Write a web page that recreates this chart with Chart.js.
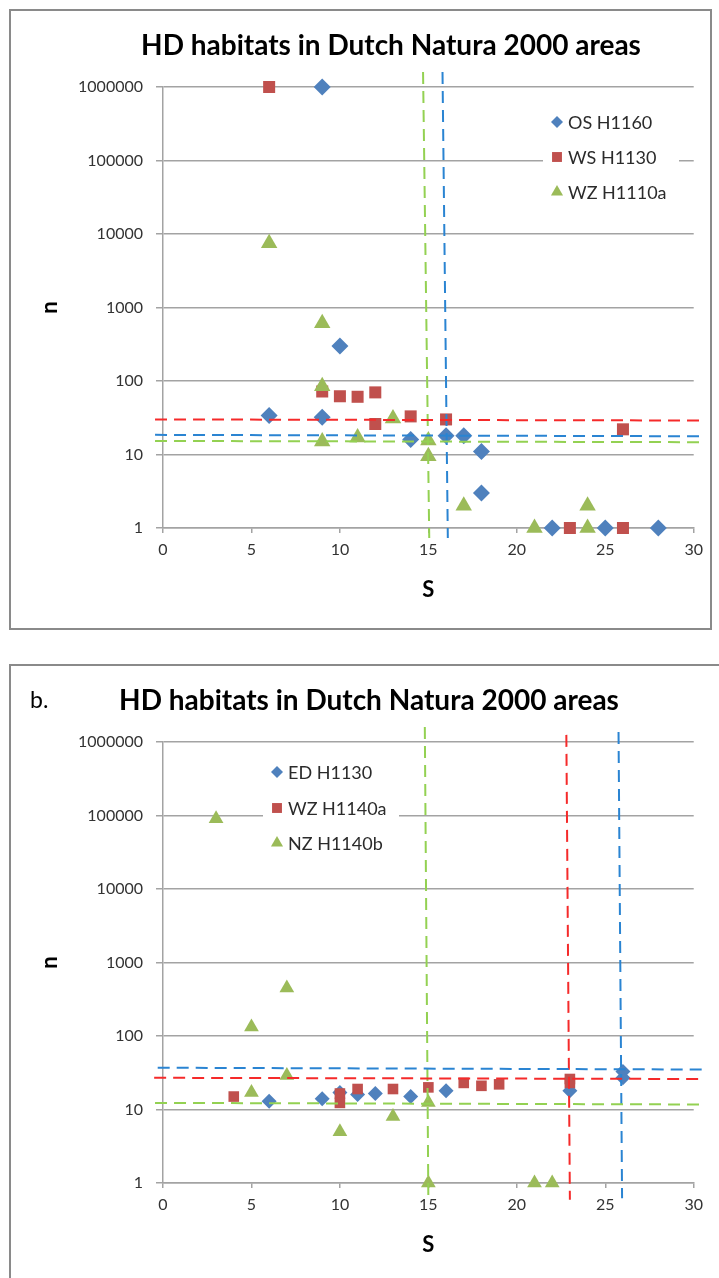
<!DOCTYPE html>
<html lang="en">
<head>
<meta charset="UTF-8">
<title>HD habitats in Dutch Natura 2000 areas</title>
<script src="https://cdn.jsdelivr.net/npm/chart.js"></script>
<style>
    html, body {
        margin: 0;
        padding: 0;
        background: #fff;
        overflow: hidden;
        width: 719px;
        height: 1278px;
    }

    .panel {
        position: absolute;
        left: 9px;
        border: 2px solid #8a8a8a;
        background: #fff;
    }

    #panelA { top: 9px; width: 699px; height: 617px; }
    #panelB { top: 664px; width: 720px; height: 617px; }

    canvas { display: block; }
</style>
</head>
<body>
<div class="panel" id="panelA"><canvas id="chartA" width="699" height="617"></canvas></div>
<div class="panel" id="panelB"><canvas id="chartB" width="699" height="617"></canvas></div>

<script>
    // shared axes
    const xTicks = [0, 5, 10, 15, 20, 25, 30];
    const yTicks = [1, 10, 100, 1000, 10000, 100000, 1000000];

    // panel a
    const osX = [9, 10, 6, 9, 14, 16, 17, 18, 18, 22, 25, 28];
    const osY = [1000000, 300, 34, 32, 16, 18, 18, 11, 3, 1, 1, 1];
    const wsX = [6, 9, 10, 11, 12, 12, 14, 16, 23, 26, 26];
    const wsY = [1000000, 72, 62, 61, 70, 26, 33, 30, 1, 22, 1];
    const wzaX = [6, 9, 9, 9, 11, 13, 15, 15, 17, 21, 24, 24];
    const wzaY = [7500, 610, 85, 15, 17, 31, 15.5, 9.5, 2, 1, 2, 1];

    // threshold lines of panel a: [x1, y1, x2, y2]
    const aRedH = [-0.45, 30, 30.45, 29];
    const aBlueH = [-0.45, 18.5, 30.45, 17.7];
    const aGreenH = [-0.45, 15.3, 30.45, 14.7];
    const aGreenV = [14.7, 1600000, 15.05, 0.73];
    const aBlueV = [15.8, 1600000, 16.1, 0.73];

    // panel b
    const edX = [6, 9, 10, 11, 12, 14, 16, 23, 26, 26];
    const edY = [13, 14, 17, 16, 16.5, 15, 18, 18, 33, 27];
    const wzbX = [4, 10, 10, 11, 13, 15, 17, 18, 19, 23, 23];
    const wzbY = [15, 16.5, 12.3, 19, 19, 20, 23, 21, 22, 26, 23];
    const nzX = [3, 5, 7, 5, 7, 10, 13, 15, 15, 21, 22];
    const nzY = [90000, 133, 450, 17, 29, 5, 8, 12.5, 1, 1, 1];

    const bBlueH = [-0.3, 37, 30.6, 35];
    const bRedH = [-0.5, 27, 30.6, 26];
    const bGreenH = [-0.45, 12.3, 30.6, 11.7];
    const bGreenV = [14.8, 1600000, 15.0, 0.6];
    const bRedV = [22.8, 1250000, 23.0, 0.59];
    const bBlueV = [25.75, 1370000, 25.95, 0.62];

    const BLUE = '#4f81bd', RED = '#c0504d', GREEN = '#9bbb59';
    const DASH_BLUE = '#2a84d2', DASH_RED = '#f52a2a', DASH_GREEN = '#93d152';
    const GRID = '#a3a3a3';
    const FONT = 'Lato, "Open Sans", sans-serif';

    Chart.defaults.font.family = FONT;

    function points(xs, ys) {
        return xs.map((x, i) => ({ x: x, y: ys[i] }));
    }

    function marker(label, xs, ys, color, style, radius, order) {
        return {
            type: 'scatter',
            label: label,
            data: points(xs, ys),
            backgroundColor: color,
            pointStyle: style,
            pointRadius: radius,
            pointHoverRadius: radius,
            pointBorderWidth: 0,
            clip: false,
            order: order
        };
    }

    function dashed(seg, color) {
        return {
            type: 'line',
            data: [{ x: seg[0], y: seg[1] }, { x: seg[2], y: seg[3] }],
            borderColor: color,
            borderWidth: 2,
            borderDash: [12, 7],
            pointRadius: 0,
            fill: false,
            clip: false,
            order: 0
        };
    }

    // title, panel tag and the in-plot legend
    const panelText = {
        id: 'panelText',
        afterDraw(chart, args, opts) {
            const ctx = chart.ctx;
            ctx.save();
            ctx.fillStyle = '#000';
            ctx.textBaseline = 'alphabetic';
            ctx.textAlign = 'center';
            ctx.font = 'bold 28px ' + FONT;
            ctx.fillText(opts.title, opts.titleX, 44);
            if (opts.tag) {
                ctx.textAlign = 'left';
                ctx.font = '23px ' + FONT;
                ctx.fillText(opts.tag, 19, 42);
            }

            const lg = opts.legend;
            ctx.fillStyle = '#fff';
            ctx.fillRect(lg.x, lg.y, lg.w, lg.h);
            ctx.textAlign = 'left';
            ctx.textBaseline = 'middle';
            ctx.font = '18px ' + FONT;
            lg.items.forEach((it, i) => {
                const y = lg.rowY[i];
                ctx.fillStyle = it.color;
                Chart.helpers.drawPoint(ctx, { pointStyle: it.style, radius: it.r, rotation: 0, borderWidth: 0 }, lg.markX, y);
                ctx.fillStyle = '#2b2b2b';
                ctx.fillText(it.label, lg.textX, y + 1);
            });
            ctx.restore();
        }
    };

    function makeChart(id, datasets, text) {
        return new Chart(document.getElementById(id), {
            data: { datasets: datasets },
            plugins: [panelText],
            options: {
                responsive: false,
                animation: false,
                layout: { padding: { left: 0, right: 13, top: 76, bottom: 0 } },
                plugins: {
                    legend: { display: false },
                    title: { display: false },
                    tooltip: { enabled: false },
                    panelText: text
                },
                scales: {
                    x: {
                        type: 'linear',
                        min: 0,
                        max: 30,
                        afterBuildTicks: s => { s.ticks = xTicks.map(v => ({ value: v })); },
                        afterFit: s => { s.height = 100; },
                        grid: { drawOnChartArea: false, color: GRID, lineWidth: 1.5, tickLength: 5 },
                        border: { color: GRID, width: 1.5 },
                        ticks: { color: '#333', font: { size: 16 }, padding: 7, maxRotation: 0, autoSkip: false },
                        title: {
                            display: true, text: 'S', color: '#000',
                            font: { size: 22, weight: 'bold' },
                            padding: { top: 0, bottom: 25 }
                        }
                    },
                    y: {
                        type: 'logarithmic',
                        min: 1,
                        max: 1000000,
                        afterBuildTicks: s => { s.ticks = yTicks.map(v => ({ value: v })); },
                        afterFit: s => { s.width = 152; },
                        grid: { color: GRID, lineWidth: 1.5, tickLength: 7 },
                        border: { color: GRID, width: 1.5 },
                        ticks: {
                            color: '#333', font: { size: 16 }, padding: 13, autoSkip: false,
                            callback: v => String(v)
                        },
                        title: {
                            display: true, text: 'n', color: '#000',
                            font: { size: 22, weight: 'bold' },
                            padding: { top: 26, bottom: 0 }
                        }
                    }
                }
            }
        });
    }

    makeChart('chartA', [
        dashed(aRedH, DASH_RED),
        dashed(aBlueH, DASH_BLUE),
        dashed(aGreenH, DASH_GREEN),
        dashed(aGreenV, DASH_GREEN),
        dashed(aBlueV, DASH_BLUE),
        marker('OS H1160', osX, osY, BLUE, 'rectRot', 8.5, 3),
        marker('WS H1130', wsX, wsY, RED, 'rect', 8.5, 2),
        marker('WZ H1110a', wzaX, wzaY, GREEN, 'triangle', 9.5, 1)
    ], {
        title: 'HD habitats in Dutch Natura 2000 areas',
        titleX: 380,
        legend: {
            x: 532, y: 94, w: 136, h: 100, markX: 546, textX: 557,
            rowY: [111, 146, 181],
            items: [
                { label: 'OS H1160', color: BLUE, style: 'rectRot', r: 6 },
                { label: 'WS H1130', color: RED, style: 'rect', r: 7 },
                { label: 'WZ H1110a', color: GREEN, style: 'triangle', r: 7 }
            ]
        }
    });

    makeChart('chartB', [
        dashed(bBlueH, DASH_BLUE),
        dashed(bRedH, DASH_RED),
        dashed(bGreenH, DASH_GREEN),
        dashed(bGreenV, DASH_GREEN),
        dashed(bRedV, DASH_RED),
        dashed(bBlueV, DASH_BLUE),
        marker('ED H1130', edX, edY, BLUE, 'rectRot', 7.5, 3),
        marker('WZ H1140a', wzbX, wzbY, RED, 'rect', 7.5, 2),
        marker('NZ H1140b', nzX, nzY, GREEN, 'triangle', 8.5, 1)
    ], {
        title: 'HD habitats in Dutch Natura 2000 areas',
        titleX: 358,
        tag: 'b.',
        legend: {
            x: 252, y: 89, w: 136, h: 106, markX: 266, textX: 277,
            rowY: [106, 142, 177],
            items: [
                { label: 'ED H1130', color: BLUE, style: 'rectRot', r: 6 },
                { label: 'WZ H1140a', color: RED, style: 'rect', r: 7 },
                { label: 'NZ H1140b', color: GREEN, style: 'triangle', r: 7 }
            ]
        }
    });
</script>
</body>
</html>
